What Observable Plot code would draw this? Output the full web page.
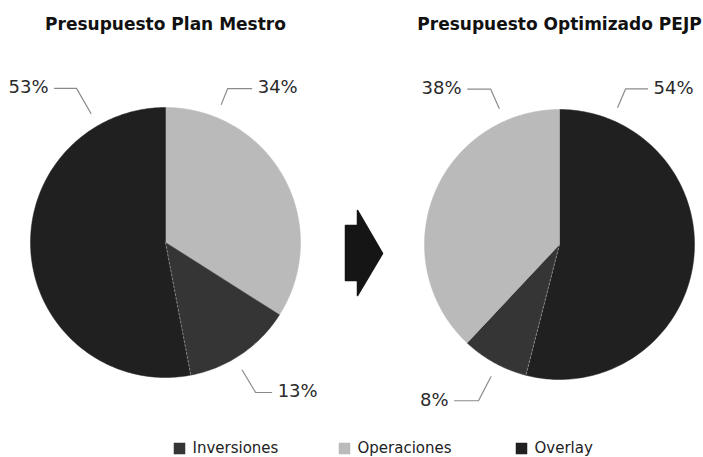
<!DOCTYPE html>
<html>
<head>
<meta charset="utf-8">
<script src="https://cdn.jsdelivr.net/npm/d3@7"></script>
<script src="https://cdn.jsdelivr.net/npm/@observablehq/plot@0.6"></script>
<style>
  html, body { margin: 0; padding: 0; background: #fff; }
  #chart svg { display: block; }
</style>
</head>
<body>
<div id="chart"></div>
<script>
// ---- data ----
const categories = ["Inversiones", "Operaciones", "Overlay"];
const colors = ["#353535", "#bababa", "#202020"];
const pieTitles = ["Presupuesto Plan Mestro", "Presupuesto Optimizado PEJP"];
// slice order (clockwise from 12 o'clock) and values per pie
const planOrder = ["Operaciones", "Inversiones", "Overlay"];
const planValues = [34, 13, 53];
const pejpOrder = ["Overlay", "Inversiones", "Operaciones"];
const pejpValues = [54, 8, 38];

// ---- layout (not data) ----
const W = 703, H = 457;
const pies = [
  {title: pieTitles[0], order: planOrder, values: planValues, cx: 165, cy: 242, r: 135,
   callouts: {Operaciones: [22, 166, 24], Inversiones: [149, 175, 16], Overlay: [-30, 178, 22]}},
  {title: pieTitles[1], order: pejpOrder, values: pejpValues, cx: 559, cy: 244, r: 135,
   callouts: {Overlay: [23, 169, 22], Inversiones: [207.4, 176, 24], Operaciones: [-23.9, 170, 23]}}
];
const polar = (p, rad, deg) => {
  const t = deg * Math.PI / 180;
  return [p.cx + rad * Math.sin(t), p.cy - rad * Math.cos(t)];
};

const wedges = [], leaders = [], labels = [], titles = [], seams = [];
pies.forEach((p, pi) => {
  titles.push({x: p.cx, y: 29, text: p.title});
  const total = d3.sum(p.values);
  let acc = 0;
  p.order.forEach((cat, i) => {
    const a0 = acc / total * 360, a1 = (acc + p.values[i]) / total * 360;
    acc += p.values[i];
    const id = pi + "-" + cat;
    const c = polar(p, 0, 0);
    wedges.push({id, cat, x: c[0], y: c[1]});
    const n = Math.max(2, Math.ceil(a1 - a0));
    for (let k = 0; k <= n; k++) {
      const q = polar(p, p.r, a0 + (a1 - a0) * k / n);
      wedges.push({id, cat, x: q[0], y: q[1]});
    }
    wedges.push({id, cat, x: c[0], y: c[1]});
    // faint seam between the two dark slices
    const next = p.order[(i + 1) % p.order.length];
    if (cat !== "Operaciones" && next !== "Operaciones") {
      const e = polar(p, p.r, a1);
      seams.push({id, x: c[0], y: c[1]}, {id, x: e[0], y: e[1]});
    }
    // leader + label
    const [la, reach, hlen] = p.callouts[cat];
    const s1 = polar(p, p.r + 14, la), s2 = polar(p, reach, la);
    const dir = Math.sin(la * Math.PI / 180) >= 0 ? 1 : -1;
    const s3 = [s2[0] + dir * hlen, s2[1]];
    [s1, s2, s3].forEach(s => leaders.push({id, x: s[0], y: s[1]}));
    labels.push({x: s3[0] + dir * 6, y: s3[1] - 1, text: p.values[i] + "%", dir});
  });
});

// arrow between pies (shape in plot units)
const arrowX = [345, 357, 357, 382, 357, 357, 345, 345];
const arrowY = [225, 225, 210, 253, 295, 280, 280, 225];
const arrow = arrowX.map((x, i) => ({x, y: arrowY[i]}));

// legend
const legendX = [173, 338, 515];
const legend = categories.map((c, i) => ({cat: c, x: legendX[i], y: 448}));

const chart = Plot.plot({
  width: W, height: H,
  margin: 0,
  x: {domain: [0, W], range: [0, W], axis: null},
  y: {domain: [0, H], range: [0, H], axis: null},
  color: {domain: categories, range: colors},
  style: {fontFamily: "'DejaVu Sans', sans-serif", background: "#fff"},
  marks: [
    Plot.line(wedges, {x: "x", y: "y", z: "id", fill: "cat", stroke: "cat", strokeWidth: 0.5, curve: "linear"}),
    Plot.line(seams, {x: "x", y: "y", z: "id", stroke: "#9a9a9a", strokeWidth: 0.8, strokeDasharray: "2,2"}),
    Plot.line(leaders, {x: "x", y: "y", z: "id", stroke: "#8a8a8a", strokeWidth: 1.2}),
    Plot.text(labels.filter(d => d.dir > 0), {x: "x", y: "y", text: "text", textAnchor: "start", fontSize: 18, fill: "#2a2a2a", lineAnchor: "middle"}),
    Plot.text(labels.filter(d => d.dir < 0), {x: "x", y: "y", text: "text", textAnchor: "end", fontSize: 18, fill: "#2a2a2a", lineAnchor: "middle"}),
    Plot.text(titles, {x: "x", y: "y", text: "text", fontSize: 17, fontWeight: "bold", fill: "#111", lineAnchor: "bottom"}),
    Plot.line(arrow, {x: "x", y: "y", fill: "#151515", stroke: "#151515", curve: "linear"}),
    Plot.dot(legend, {x: d => d.x + 6, y: "y", symbol: "square", r: 6.5, fill: "cat"}),
    Plot.text(legend, {x: d => d.x + 19, y: "y", text: "cat", textAnchor: "start", fontSize: 15, fill: "#222", lineAnchor: "middle"})
  ]
});
document.getElementById("chart").appendChild(chart);
</script>
</body>
</html>
